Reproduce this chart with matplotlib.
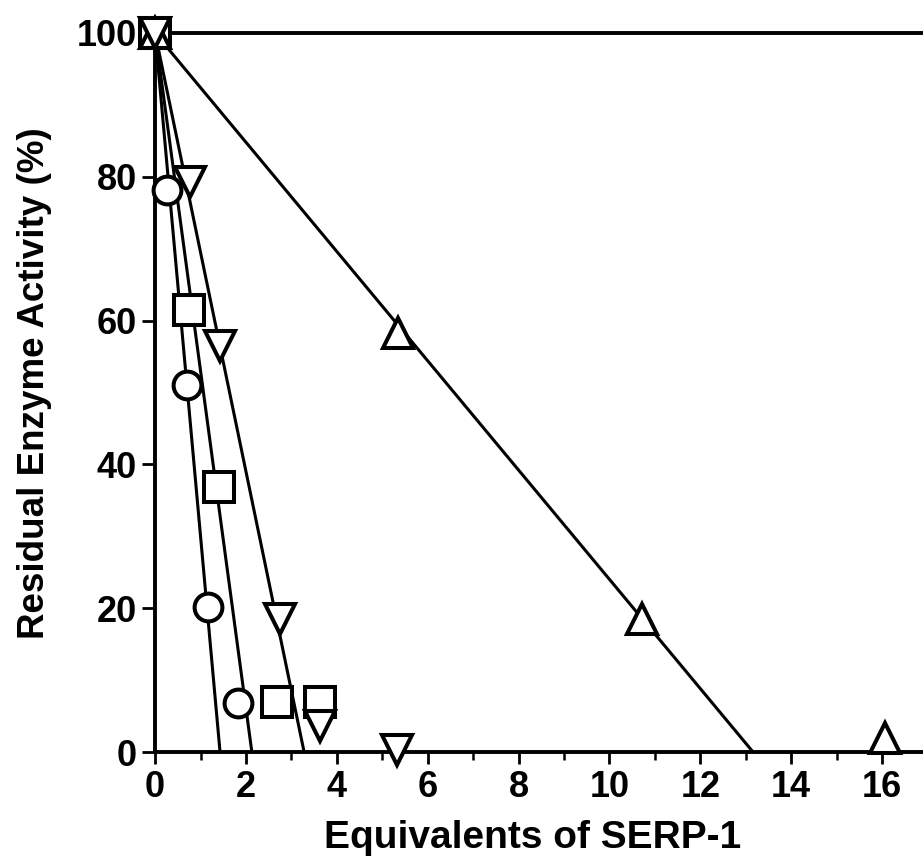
import matplotlib.pyplot as plt
from matplotlib.ticker import MultipleLocator

# values
circ_x = [0.26, 0.70, 1.17, 1.83]
circ_y = [78.2, 51.0, 20.2, 6.8]
circ_zero = 1.43

sq_x = [0.0, 0.75, 1.41, 2.69, 3.63]
sq_y = [100.0, 61.5, 36.9, 6.9, 7.0]
sq_zero = 2.13

tdown_x = [0.0, 0.77, 1.43, 2.75, 3.62, 5.32]
tdown_y = [100.0, 79.3, 56.5, 18.5, 3.6, 0.3]
tdown_zero = 3.28

tup_x = [0.0, 5.35, 10.71, 16.06]
tup_y = [100.0, 58.3, 18.5, 1.9]
tup_zero = 13.16

xticks = [0, 2, 4, 6, 8, 10, 12, 14, 16]
yticks = [0, 20, 40, 60, 80, 100]

plt.rcParams['font.family'] = ['Liberation Sans', 'DejaVu Sans']

fig = plt.figure(figsize=(9.23, 8.63), dpi=100)
ax = fig.add_axes([0.168, 0.1286, 0.832, 0.8332])

lw = 2.2
for zero in [circ_zero, sq_zero, tdown_zero, tup_zero]:
    ax.plot([0, zero], [100, 0], color='black', lw=lw, zorder=2)

mk = dict(color='none', markerfacecolor='white', markeredgecolor='black',
          markeredgewidth=2.9, clip_on=False)
ax.plot(sq_x, sq_y, marker='s', markersize=22, zorder=3, **mk)
ax.plot(circ_x, circ_y, marker='o', markersize=20, zorder=4, **mk)
ax.plot(tup_x, tup_y, marker='^', markersize=22, zorder=4, **mk)
ax.plot(tdown_x, tdown_y, marker='v', markersize=22, zorder=5, **mk)

ax.set_xlim(0, 16.9)
ax.set_ylim(0, 100)

for side in ['left', 'bottom', 'top']:
    ax.spines[side].set_linewidth(2.8)
ax.spines['right'].set_visible(False)

ax.set_xticks(xticks)
ax.set_yticks(yticks)
ax.xaxis.set_minor_locator(MultipleLocator(1))
ax.tick_params(axis='x', which='major', length=8.6, width=2, direction='out',
               labelsize=26, pad=4.5)
ax.tick_params(axis='y', which='major', length=9.5, width=2, direction='out',
               labelsize=26, pad=3.5)
ax.tick_params(axis='x', which='minor', length=6, width=1.8, direction='out')
for lab in ax.get_xticklabels() + ax.get_yticklabels():
    lab.set_fontweight('bold')

ax.set_xlabel('Equivalents of SERP-1', fontsize=28, fontweight='bold',
              va='baseline')
ax.xaxis.set_label_coords(0.4915, -0.1335)
ax.set_ylabel('Residual Enzyme Activity (%)', fontsize=26.5, fontweight='bold',
              va='center')
ax.yaxis.set_label_coords(-0.1576, 0.513)

fig.savefig('out.png', dpi=100)
